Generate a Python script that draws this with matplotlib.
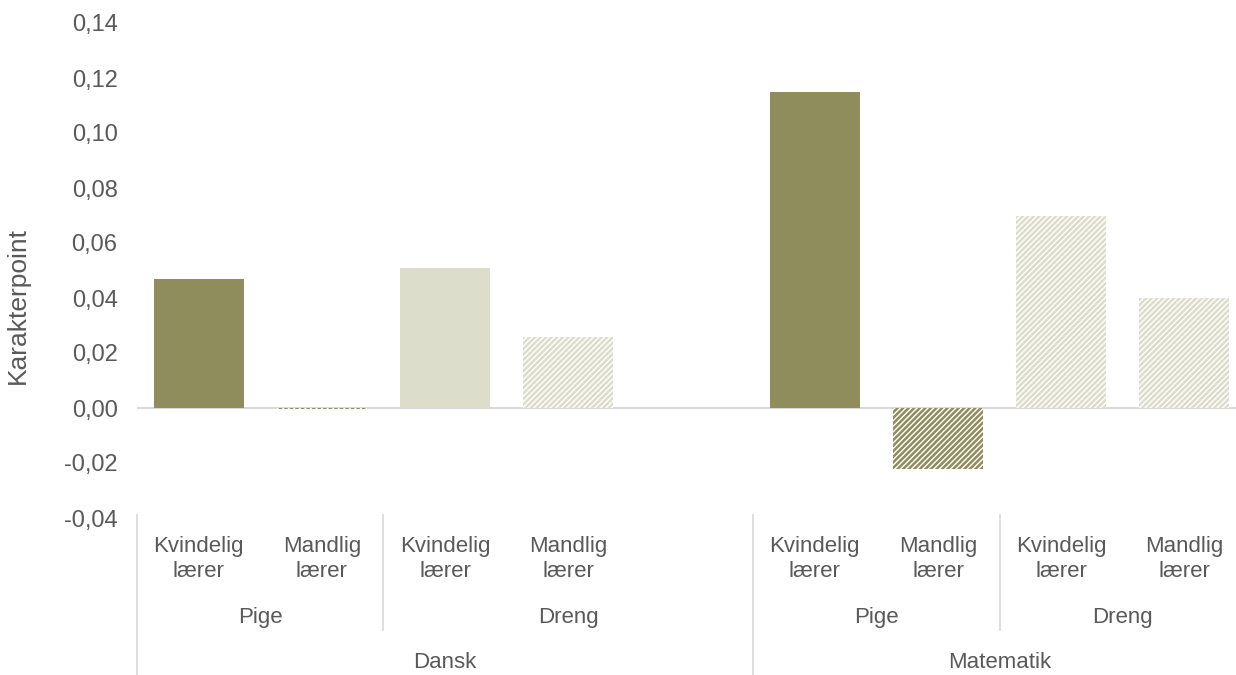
import matplotlib.pyplot as plt
from matplotlib import transforms
import numpy as np

plt.rcParams['font.family'] = ['Liberation Sans', 'DejaVu Sans']
plt.rcParams['hatch.linewidth'] = 1.8

# categories (slot 4 is an empty slot in Excel's layout)
subjects = ['Dansk', 'Matematik']
genders = ['Pige', 'Dreng', 'Pige', 'Dreng']
teachers = ['Kvindelig\nlærer', 'Mandlig\nlærer', 'Kvindelig\nlærer', 'Mandlig\nlærer', '',
            'Kvindelig\nlærer', 'Mandlig\nlærer', 'Kvindelig\nlærer', 'Mandlig\nlærer']
values = [0.047, -0.0005, 0.051, 0.026, np.nan, 0.115, -0.022, 0.070, 0.040]
yticks = [-0.04, -0.02, 0.0, 0.02, 0.04, 0.06, 0.08, 0.10, 0.12, 0.14]

dark = '#8F8D5B'
light = '#DDDDCB'
colors = [dark, dark, light, light, dark, dark, dark, light, light]
hatched = [False, True, False, True, False, False, True, True, True]

W, H = 1236, 675
fig = plt.figure(figsize=(W / 100, H / 100), dpi=100)
ax = fig.add_axes([137 / W, 1 - 518 / H, (1246 - 137) / W, (518 - 23) / H])

x = np.arange(len(values))
for xi, v, c, h in zip(x, values, colors, hatched):
    if np.isnan(v):
        continue
    if h:
        ax.bar(xi, v, width=0.73, color='white', edgecolor=c, hatch='//////', linewidth=0)
    else:
        ax.bar(xi, v, width=0.73, color=c, linewidth=0)

ax.axhline(0, color='#D9D9D9', lw=1.5, zorder=0)
ax.set_xlim(-0.5, 8.5)
ax.set_ylim(-0.04, 0.14)
ax.set_yticks(yticks)
ax.set_yticklabels([('%.2f' % t).replace('.', ',') for t in yticks])
ax.tick_params(axis='y', length=0, pad=14, labelsize=17, labelcolor='#595959')
ax.set_xticks([])
for s in ax.spines.values():
    s.set_visible(False)


def fy(p):
    return 1 - p / H


fig.text(18 / W, fy(306), 'Karakterpoint', rotation=90, ha='center', va='center',
         fontsize=19, color='#595959')

tr = transforms.blended_transform_factory(ax.transData, fig.transFigure)
txt = dict(transform=tr, ha='center', va='center', color='#595959', fontsize=16)

for xi, lab in zip(x, teachers):
    if lab:
        ax.text(xi, fy(559), lab, linespacing=1.2, clip_on=False, **txt)

gpos = [0.5, 3.0, 5.5, 7.5]
for g, p in zip(genders, gpos):
    ax.text(p, fy(618), g, clip_on=False, **txt)
for s, p in zip(subjects, [2.0, 6.5]):
    ax.text(p, fy(663), s, clip_on=False, **txt)

sep = '#D9D9D9'
for xs, bottom in [(-0.5, 675), (1.5, 630), (4.5, 675), (6.5, 630)]:
    ax.plot([xs, xs], [fy(515), fy(bottom)], transform=tr, color=sep, lw=1.2, clip_on=False)

fig.savefig('out.png', dpi=100)
